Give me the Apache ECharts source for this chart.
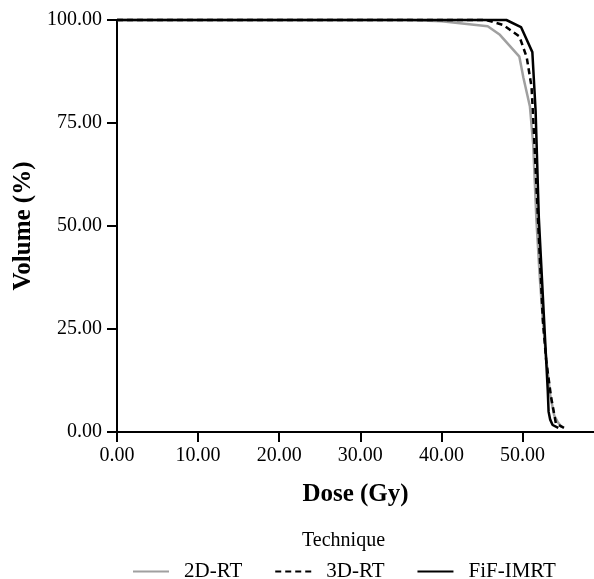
<!DOCTYPE html>
<html>
<head>
<meta charset="utf-8">
<script src="https://cdn.jsdelivr.net/npm/echarts@6/dist/echarts.min.js"></script>
<style>
html,body{margin:0;padding:0;background:#fff;}
#chart{width:594px;height:579px;}
</style>
</head>
<body>
<div id="chart"></div>
<script>
// Data (Dose in Gy, Volume in %)
const dose2D = [0, 36, 40, 45.7, 47.2, 49.6, 50.1, 50.9, 51.3, 51.7, 52.1, 52.5, 52.9, 53.4, 53.9, 54.3, 54.8];
const vol2D  = [100, 100, 99.7, 98.5, 96.4, 91.1, 86.0, 79, 70, 51.5, 38, 27, 18, 9, 4, 2.5, 1.2];
const dose3D = [0, 45.5, 47.6, 49.6, 50.5, 51.1, 51.3, 51.9, 52.5, 52.9, 53.5, 54.1, 55.1];
const vol3D  = [100, 100, 98.8, 96, 91, 83.8, 76.5, 51.5, 27, 17.5, 8.6, 2.1, 1.0];
const doseFiF = [0, 48, 49.8, 51.2, 51.6, 52.0, 52.6, 53.1, 53.2, 53.4, 53.7, 54.4];
const volFiF  = [100, 100, 98.3, 92.2, 78, 52, 29, 10, 5, 3, 1.7, 1.0];
const seriesNames = ['2D-RT', '3D-RT', 'FiF-IMRT'];
const xTicks = [0, 10, 20, 30, 40, 50];
const yTicks = [0, 25, 50, 75, 100];
const legendTitle = 'Technique';
const xTitle = 'Dose (Gy)';
const yTitle = 'Volume (%)';

function pairs(xs, ys) { return xs.map((x, i) => [x, ys[i]]); }

const FONT = 'Liberation Serif';
const chart = echarts.init(document.getElementById('chart'), null, {renderer: 'canvas'});
chart.setOption({
  animation: false,
  backgroundColor: '#ffffff',
  textStyle: {fontFamily: FONT, color: '#000'},
  grid: {left: 117, right: 0, top: 20, bottom: 147, containLabel: false},
  xAxis: {
    type: 'value', min: 0, max: 58.8,
    name: xTitle, nameLocation: 'middle', nameGap: 50,
    nameTextStyle: {fontFamily: FONT, fontSize: 25, fontWeight: 'bold', color: '#000'},
    axisLine: {show: true, onZero: false, lineStyle: {color: '#000', width: 2}},
    axisTick: {show: true, length: 10, lineStyle: {color: '#000', width: 2}, customValues: xTicks},
    axisLabel: {fontFamily: FONT, fontSize: 20, color: '#000', margin: 14, customValues: xTicks,
      formatter: v => v.toFixed(2)},
    splitLine: {show: false}
  },
  yAxis: {
    type: 'value', min: 0, max: 100, interval: 25,
    name: yTitle, nameLocation: 'middle', nameGap: 78, nameRotate: 90,
    nameTextStyle: {fontFamily: FONT, fontSize: 25, fontWeight: 'bold', color: '#000'},
    axisLine: {show: true, lineStyle: {color: '#000', width: 2}},
    axisTick: {show: true, length: 10, lineStyle: {color: '#000', width: 2}, customValues: yTicks},
    axisLabel: {fontFamily: FONT, fontSize: 20, color: '#000', margin: 15, customValues: yTicks,
      formatter: v => v.toFixed(2)},
    splitLine: {show: false}
  },
  legend: {
    data: seriesNames,
    left: 132, top: 561, padding: 0,
    itemWidth: 36, itemHeight: 14, itemGap: 32,
    itemStyle: {opacity: 0},
    textStyle: {fontFamily: FONT, fontSize: 21, color: '#000', padding: [0, 0, 0, 10]}
  },
  graphic: [{
    type: 'text', left: 302, top: 531,
    style: {text: legendTitle, font: '20px "Liberation Serif"', fill: '#000'}
  }],
  series: [
    {name: seriesNames[0], type: 'line', data: pairs(dose2D, vol2D), symbol: 'none', clip: false,
      lineStyle: {color: '#a0a0a0', width: 2.5}, itemStyle: {color: '#a0a0a0'}},
    {name: seriesNames[1], type: 'line', data: pairs(dose3D, vol3D), symbol: 'none', clip: false,
      lineStyle: {color: '#000', width: 2.5, type: [6, 4]}, itemStyle: {color: '#000'}},
    {name: seriesNames[2], type: 'line', data: pairs(doseFiF, volFiF), symbol: 'none', clip: false,
      lineStyle: {color: '#000', width: 2.5}, itemStyle: {color: '#000'}}
  ]
});
</script>
</body>
</html>
